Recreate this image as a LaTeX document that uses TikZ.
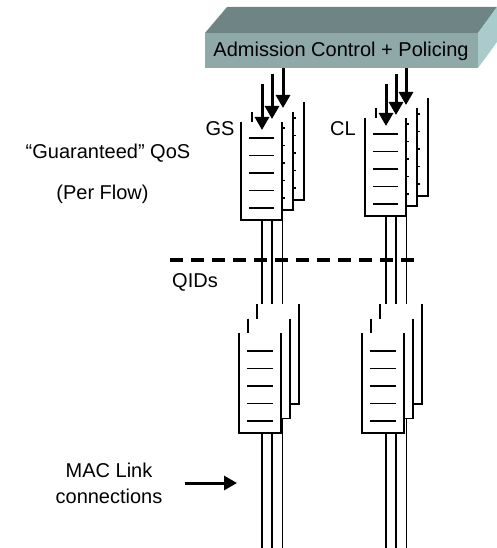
\documentclass[tikz,border=0pt]{standalone}
\usepackage{fontspec}
\setmainfont{Liberation Sans}
\usetikzlibrary{arrows.meta}
\definecolor{hdrtop}{RGB}{111,133,133}
\definecolor{hdrfront}{RGB}{143,168,168}
\definecolor{hdrside}{RGB}{168,204,204}
\tikzset{
  qline/.style={line width=1.8pt},
  flowarrow/.style={line width=3pt,-{Triangle[length=13pt,width=14pt]}},
  lbl/.style={font=\fontsize{20}{26}\selectfont,inner sep=0pt}
}
% open-top queue box with five slots: \qbox(x,y)(w,h)
\def\qbox(#1,#2)(#3,#4){
  \fill[white] (#1,#2) rectangle ++(#3,#4);
  \draw[qline] (#1,#2) -- ++(0,#4) -- ++(#3,0) -- ++(0,-#4);
  \foreach \k in {0,...,4}
    \draw[qline] (#1+8,{#2+#4-12-17.5*\k}) -- ++(#3-16,0);
}
% three boxes, back to front: \qstack(x,y)(w,h)(dx,dy)
\def\qstack(#1,#2)(#3,#4)(#5,#6){
  \qbox({#1+2*#5},{#2-2*#6})(#3,#4)
  \qbox({#1+#5},{#2-#6})(#3,#4)
  \qbox(#1,#2)(#3,#4)
}
\begin{document}
\begin{tikzpicture}[x=1pt,y=-1pt]
  \useasboundingbox (0,0) rectangle (497,548);

  % admission control slab
  \fill[hdrtop] (205,33) -- (478,33) -- (497,7) -- (227,7) -- cycle;
  \fill[hdrside] (478,33) -- (497,7) -- (497,42) -- (478,68) -- cycle;
  \fill[hdrfront] (205,33) rectangle (478,68);
  \node[lbl] (hdr) at (341,51) {Admission Control + Policing};

  % per flow connections
  \foreach \x in {262,272,282.5}
    \draw[qline] (\x,200) -- (\x,548);
  \foreach \x in {386,396,406.5}
    \draw[qline] (\x,196) -- (\x,548);

  % queues
  \qstack(241,122)(41,98)(11,10)
  \qstack(365,118)(41,98)(11,10)
  \qstack(239,333)(42,100)(9,14.5)
  \qstack(362,333)(42,100)(9,14.5)

  % arrivals
  \coordinate (gsa) at (262,84);  \coordinate (gsa') at (262,130);
  \coordinate (gsb) at (272,74);  \coordinate (gsb') at (272,119);
  \coordinate (gsc) at (283,68);  \coordinate (gsc') at (283,108);
  \coordinate (cla) at (386,84);  \coordinate (cla') at (386,126);
  \coordinate (clb) at (396,74);  \coordinate (clb') at (396,115);
  \coordinate (clc) at (406,68);  \coordinate (clc') at (406,105);
  \foreach \a in {gsa,gsb,gsc,cla,clb,clc}
    \draw[flowarrow] (\a) -- (\a');

  % QID boundary
  \coordinate (qidl) at (170,260);
  \coordinate (qidr) at (415,260);
  \draw[line width=4pt,dash pattern=on 13pt off 8pt] (qidl) -- (qidr);

  % labels
  \node[lbl] (gs) at (220,129) {GS};
  \node[lbl] (cl) at (343,129) {CL};
  \node[lbl,anchor=base] (gqos) at (108,159) {“Guaranteed” QoS};
  \node[lbl,anchor=base] (perflow) at (102.5,199) {(Per Flow)};
  \node[lbl,anchor=base west] (qids) at (172,287) {QIDs};
  \node[lbl,align=center] (mac) at (109,483) {MAC Link\\connections};
  \coordinate (macend) at (237,483);
  \draw[flowarrow] ([xshift=22pt]mac.east) -- (macend);
\end{tikzpicture}
\end{document}
